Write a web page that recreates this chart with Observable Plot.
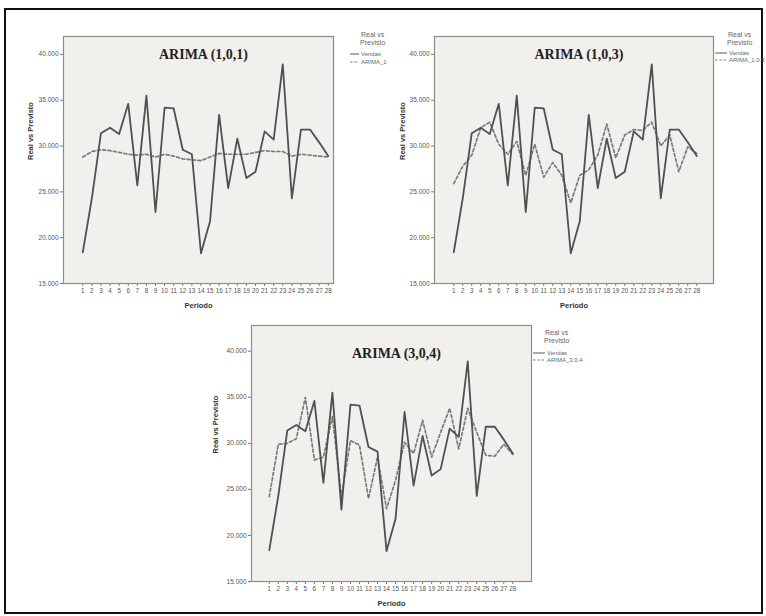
<!DOCTYPE html>
<html><head><meta charset="utf-8">
<script src="https://cdn.jsdelivr.net/npm/d3@7"></script>
<script src="https://cdn.jsdelivr.net/npm/@observablehq/plot@0.6"></script>
<style>
body{margin:0;background:#fff;}
#wrap{position:relative;width:766px;height:616px;overflow:hidden;font-family:"Liberation Sans",Arial,sans-serif;background:#fff;}
#frame{position:absolute;left:4px;top:8px;width:759px;height:606px;border:2px solid #111;box-sizing:border-box;}
.panel{position:absolute;}
.lg{position:absolute;font-size:6px;color:#666;line-height:7px;white-space:nowrap;}
.lgt{position:absolute;font-size:7px;color:#666;line-height:8px;text-align:center;white-space:nowrap;}
.lgl{position:absolute;}
</style></head><body><div id="wrap"><div id="frame"></div></div>
<script>
// ---- data ----
const periodos = [1,2,3,4,5,6,7,8,9,10,11,12,13,14,15,16,17,18,19,20,21,22,23,24,25,26,27,28];
const vendas = [18400,24300,31400,32000,31300,34600,25700,35500,22800,34200,34100,29600,29100,18300,21800,33400,25400,30800,26500,27200,31600,30700,38900,24300,31800,31800,30400,28900];
const arima101 = [28800,29400,29600,29500,29300,29100,29000,29100,28800,29100,28900,28600,28500,28400,28800,29200,29100,29100,29100,29300,29500,29400,29400,28900,29100,29000,28900,28800];
const arima103 = [25900,27800,29000,32000,32600,30200,29100,30500,26800,30200,26600,28200,26800,23800,26800,27400,29000,32400,28700,31200,31800,31700,32600,30000,31200,27200,29900,29200];
const arima304 = [24200,29900,30000,30500,35000,28200,28500,32900,24200,30300,29800,24000,28500,22900,26000,30100,28900,32500,28500,31200,33800,29400,33800,31200,28700,28600,29900,28800];
const yTicks = [15000,20000,25000,30000,35000,40000];
const titles = ["ARIMA (1,0,1)","ARIMA (1,0,3)","ARIMA (3,0,4)"];
const seriesNames = ["ARIMA_1","ARIMA_1.0.3","ARIMA_3.0.4"];
const legendTitle = ["Real vs","Previsto"];
const realName = "Vendas";
const xLabel = "Periodo";
const yLabel = "Real vs Previsto";

const fmt = d3.formatLocale({decimal:",", thousands:".", grouping:[3], currency:["",""]}).format(",");

const wrap = document.getElementById("wrap");

function panel(cfg, forecast, idx) {
  const real = periodos.map((p,i)=>({p, v: vendas[i]}));
  const fc = periodos.map((p,i)=>({p, v: forecast[i]}));
  const chart = Plot.plot({
    width: cfg.width, height: cfg.height,
    marginLeft: cfg.ml, marginTop: cfg.mt, marginRight: cfg.mr, marginBottom: cfg.mb,
    style: {fontFamily: '"Liberation Sans", Arial, sans-serif', background: "transparent", color: "#555"},
    x: {domain: cfg.xd},
    y: {domain: cfg.yd},
    marks: [
      Plot.frame({fill: "#f2f0ec"}),
      Plot.axisY({ticks: yTicks, tickFormat: fmt, tickSize: 3, tickPadding: 2, fontSize: 6.5, label: null, stroke: "#777"}),
      Plot.axisX({ticks: periodos, tickFormat: d => String(d), tickSize: 3, tickPadding: 2, fontSize: 6.3, label: null, stroke: "#777"}),
      Plot.line(fc, {x: "p", y: "v", stroke: "#7a7a7a", strokeWidth: 1.7, strokeDasharray: "3,2.4"}),
      Plot.line(real, {x: "p", y: "v", stroke: "#505050", strokeWidth: 1.8}),
      Plot.frame({stroke: "#8c8c8c", strokeWidth: 1.2}),
      Plot.text([titles[idx]], {frameAnchor: "top", lineAnchor: "middle", dy: cfg.tdy, dx: 5, fontFamily: '"Liberation Serif", "Times New Roman", serif', fontWeight: "bold", fontSize: 14, fill: "#222"}),
      Plot.text([xLabel], {frameAnchor: "bottom", lineAnchor: "middle", dy: 22, fontWeight: "bold", fontSize: 7.5, fill: "#333"}),
      Plot.text([yLabel], {frameAnchor: "left", rotate: -90, dx: cfg.ydx, fontWeight: "bold", fontSize: 7.5, fill: "#333"})
    ]
  });
  chart.classList.add("panel");
  chart.style.left = cfg.left + "px";
  chart.style.top = cfg.top + "px";
  wrap.appendChild(chart);

  // legend (HTML)
  const t = document.createElement("div");
  t.className = "lgt";
  t.style.left = cfg.lg.tx + "px"; t.style.top = cfg.lg.ty + "px";
  t.innerHTML = legendTitle.join("<br>");
  wrap.appendChild(t);
  [[realName, "", "#5a5a5a"], [seriesNames[idx], "2.5,1.8", "#7c7c7c"]].forEach((it, k) => {
    const y = cfg.lg.iy + k * cfg.lg.step;
    const svg = d3.create("svg").attr("class","lgl").attr("width", cfg.lg.lw).attr("height", 4)
      .style("left", cfg.lg.lx + "px").style("top", (y - 2) + "px");
    svg.append("line").attr("x1",0).attr("x2",cfg.lg.lw).attr("y1",2).attr("y2",2)
      .attr("stroke", it[2]).attr("stroke-width", 1).attr("stroke-dasharray", it[1] || null);
    wrap.appendChild(svg.node());
    const d = document.createElement("div");
    d.className = "lg";
    d.style.left = (cfg.lg.lx + cfg.lg.lw + 2) + "px"; d.style.top = (y - 3.5) + "px";
    d.textContent = it[0];
    wrap.appendChild(d);
  });
}

const cfgs = [
  {left:0, top:0, ml:63, mt:36, mr:7, mb:35, width:340, height:318, xd:[-1.12,28.58], yd:[15000,41950], tdy:18, ydx:-33,
   lg:{tx:360, ty:31, lx:350, lw:9, iy:54, step:8}},
  {left:380, top:0, ml:54, mt:36, mr:7, mb:35, width:340, height:318, xd:[-1.14,29.86], yd:[15000,41950], tdy:18, ydx:-32,
   lg:{tx:727, ty:31, lx:715, lw:12, iy:53, step:7}},
  {left:200, top:289, ml:51, mt:36, mr:8, mb:35, width:339, height:327, xd:[-0.97,30.07], yd:[15000,42790], tdy:28, ydx:-36,
   lg:{tx:544, ty:329, lx:533, lw:12, iy:353, step:7}}
];
panel(cfgs[0], arima101, 0);
panel(cfgs[1], arima103, 1);
panel(cfgs[2], arima304, 2);
</script></body></html>
